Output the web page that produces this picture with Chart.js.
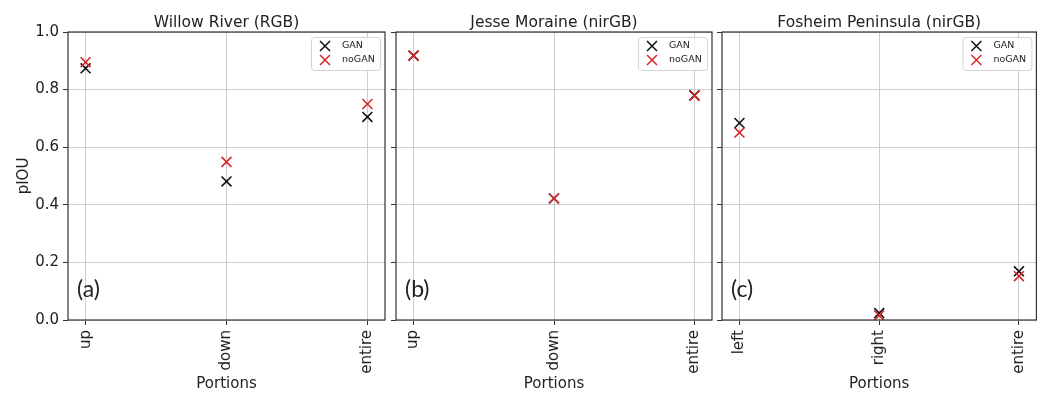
<!DOCTYPE html>
<html>
<head>
<meta charset="utf-8">
<script src="https://cdn.jsdelivr.net/npm/chart.js@4.4.0/dist/chart.umd.min.js"></script>
<style>
body { margin: 0; background: #fff; }
#wrap { position: relative; width: 1045px; height: 394px; }
#wrap canvas { position: absolute; left: 0; top: 0; }
</style>
</head>
<body>
<div id="wrap">
  <canvas id="pa" width="1045" height="394"></canvas>
  <canvas id="pb" width="1045" height="394"></canvas>
  <canvas id="pc" width="1045" height="394"></canvas>
</div>
<script>
// pIOU per portion, three sites
titles = ['Willow River (RGB)', 'Jesse Moraine (nirGB)', 'Fosheim Peninsula (nirGB)']
tags = ['(a)', '(b)', '(c)']
seriesNames = ['GAN', 'noGAN']

portionsA = ['up', 'down', 'entire']
portionsB = ['up', 'down', 'entire']
portionsC = ['left', 'right', 'entire']

ganA = [0.874, 0.481, 0.705]
noganA = [0.895, 0.549, 0.750]
ganB = [0.918, 0.422, 0.780]
noganB = [0.918, 0.422, 0.779]
ganC = [0.684, 0.024, 0.169]
noganC = [0.651, 0.016, 0.152]

yTicks = [0, 0.2, 0.4, 0.6, 0.8, 1.0]

const txt = '#222'
const ganColor = '#111111'
const noganColor = '#d62728'
const FONT = 'DejaVu Sans'

function toPoints(vals) {
  return vals.map((v, k) => ({ x: k, y: v }))
}

// frame, titles, legend box and panel tags
function decorPlugin(idx) {
  return {
    id: 'decor' + idx,
    afterDraw(chart) {
      const ctx = chart.ctx
      const ca = chart.chartArea
      const mid = (ca.left + ca.right) / 2
      ctx.save()
      ctx.strokeStyle = '#333'
      ctx.lineWidth = 1.2
      ctx.strokeRect(ca.left, ca.top, ca.right - ca.left, ca.bottom - ca.top)

      ctx.fillStyle = txt
      ctx.textAlign = 'center'
      ctx.textBaseline = 'alphabetic'
      ctx.font = '15.5px "' + FONT + '"'
      ctx.fillText(titles[idx], mid, 27)
      ctx.font = '15px "' + FONT + '"'
      ctx.fillText('Portions', mid, 388)

      if (idx == 0) {
        ctx.save()
        ctx.translate(24, (ca.top + ca.bottom) / 2)
        ctx.rotate(-Math.PI / 2)
        ctx.textBaseline = 'middle'
        ctx.fillText('pIOU', 0, 0)
        ctx.restore()
      }

      ctx.font = '23px Lato'
      ctx.textAlign = 'left'
      ctx.fillText(tags[idx], ca.left + 9, 297)

      // legend
      const lx = ca.right - 74, ly = ca.top + 5, lw = 69, lh = 33
      ctx.fillStyle = 'rgba(255,255,255,0.85)'
      ctx.strokeStyle = '#d4d4d4'
      ctx.lineWidth = 1
      ctx.beginPath()
      ctx.roundRect(lx + 0.5, ly + 0.5, lw, lh, 3)
      ctx.fill()
      ctx.stroke()
      const cols = [ganColor, noganColor]
      for (let k = 0; k < 2; k++) {
        const mx = lx + 14, my = ly + 9 + k * 14, r = 5
        ctx.strokeStyle = cols[k]
        ctx.lineWidth = 1.5
        ctx.beginPath()
        ctx.moveTo(mx - r, my - r); ctx.lineTo(mx + r, my + r)
        ctx.moveTo(mx - r, my + r); ctx.lineTo(mx + r, my - r)
        ctx.stroke()
        ctx.fillStyle = txt
        ctx.font = '9.5px "' + FONT + '"'
        ctx.textBaseline = 'middle'
        ctx.fillText(seriesNames[k], lx + 31, my)
      }
      ctx.restore()
    }
  }
}

function makePanel(id, idx, cats, gan, nogan, padLeft, axisW, padRight) {
  const mark = (label, vals, color, order) => ({
    label: label,
    data: toPoints(vals),
    pointStyle: 'crossRot',
    pointRadius: 7,
    pointHoverRadius: 7,
    borderColor: color,
    backgroundColor: color,
    borderWidth: 1.6,
    order: order
  })
  new Chart(document.getElementById(id), {
    type: 'scatter',
    data: {
      datasets: [mark(seriesNames[0], gan, ganColor, 1), mark(seriesNames[1], nogan, noganColor, 0)]
    },
    options: {
      responsive: false,
      animation: false,
      events: [],
      layout: { padding: { left: padLeft, right: padRight, top: 32, bottom: 0 } },
      plugins: { legend: { display: false }, tooltip: { enabled: false } },
      scales: {
        x: {
          type: 'linear', min: -0.125, max: 2.125, bounds: 'data',
          afterBuildTicks: s => { s.ticks = cats.map((c, k) => ({ value: k })) },
          afterFit: s => { s.height = 74; s.paddingLeft = 0; s.paddingRight = 0 },
          ticks: {
            minRotation: 90, maxRotation: 90, autoSkip: false, padding: 5,
            color: txt, font: { family: FONT, size: 15 },
            callback: v => cats[v]
          },
          grid: { color: '#cdcdcd', tickColor: '#333', tickLength: 5, lineWidth: 1 },
          border: { display: false }
        },
        y: {
          min: 0, max: 1,
          afterBuildTicks: s => { s.ticks = yTicks.map(v => ({ value: v })) },
          afterFit: s => { s.width = axisW; s.paddingTop = 0; s.paddingBottom = 0 },
          ticks: {
            display: idx == 0, padding: 4,
            color: txt, font: { family: FONT, size: 15 },
            callback: v => v.toFixed(1)
          },
          grid: { color: '#cdcdcd', tickColor: '#333', tickLength: 5, lineWidth: 1 },
          border: { display: false }
        }
      }
    },
    plugins: [decorPlugin(idx)]
  })
}

makePanel('pa', 0, portionsA, ganA, noganA, 0, 68, 660)
makePanel('pb', 1, portionsB, ganB, noganB, 390, 6, 333)
makePanel('pc', 2, portionsC, ganC, noganC, 716, 6, 8)
</script>
</body>
</html>
